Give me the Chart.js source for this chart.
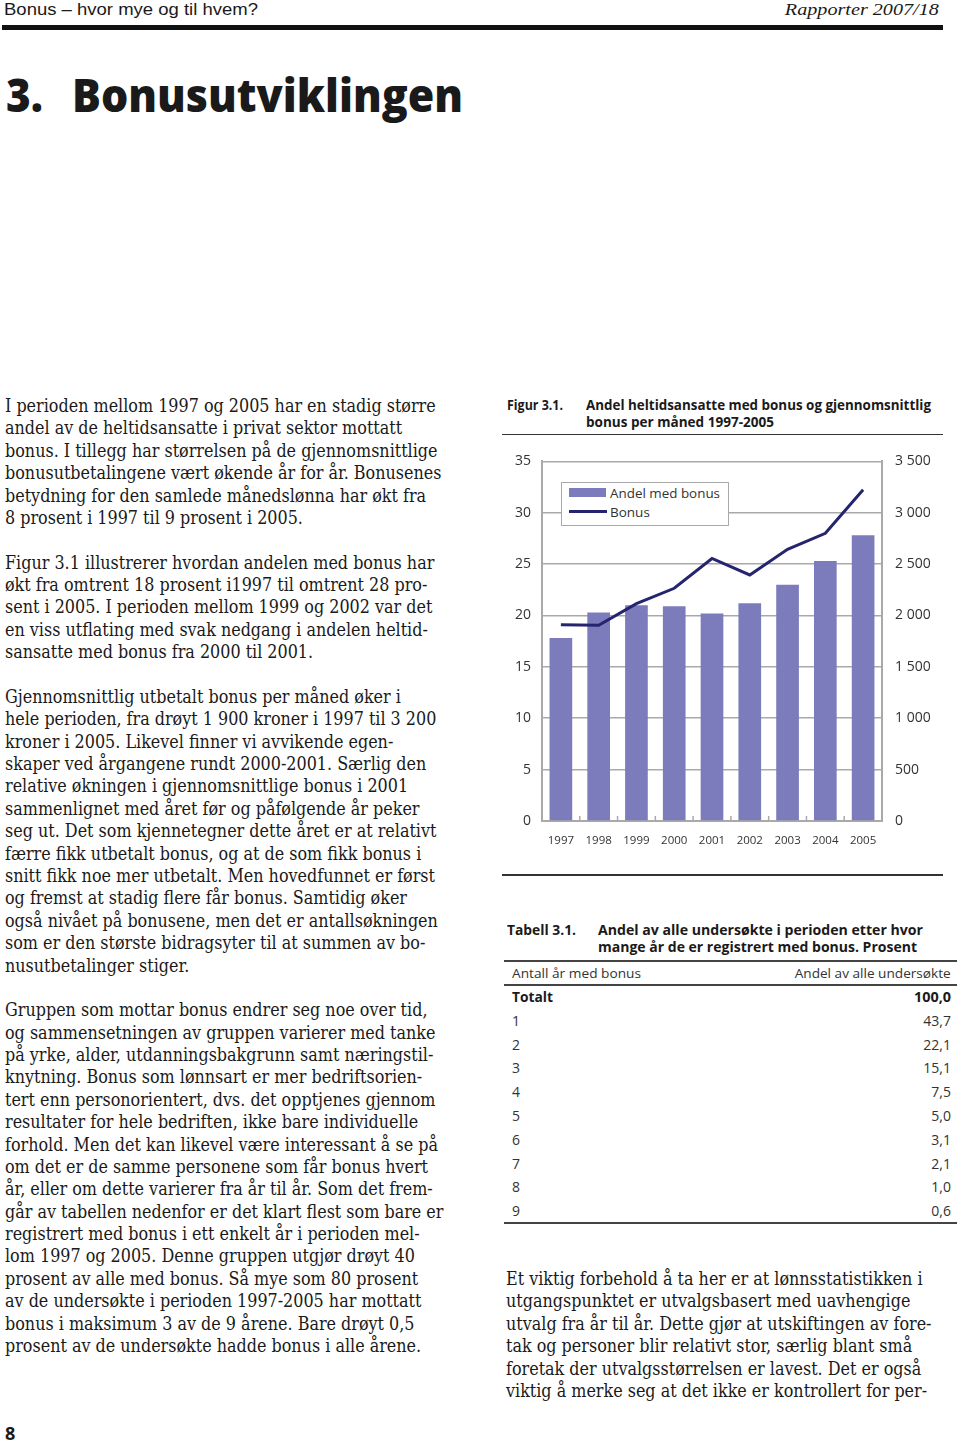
<!DOCTYPE html>
<html><head><meta charset="utf-8">
<script src="https://cdn.jsdelivr.net/npm/chart.js@4"></script>
<style>
html,body{margin:0;padding:0;background:#fff;}
body{width:960px;height:1444px;position:relative;overflow:hidden;color:#1a1a1a;}
.a{position:absolute;white-space:nowrap;}
.rule{position:absolute;background:#1e1e1e;}
#chartBox{position:absolute;left:500px;top:440px;width:460px;height:420px;}
.leg{position:absolute;z-index:5;}
</style></head><body>
<div id="chartBox"><canvas id="c" width="460" height="420"></canvas></div>
<script>
// ---------- data ----------
const years = ['1997','1998','1999','2000','2001','2002','2003','2004','2005'];
const andelMedBonus = [17.8, 20.3, 21.0, 20.9, 20.2, 21.2, 23.0, 25.3, 27.8];
const bonusKroner = [1910, 1905, 2115, 2265, 2555, 2395, 2645, 2800, 3225];
const leftAxisMax = 35, leftAxisStep = 5;
const rightAxisMax = 3500, rightAxisStep = 500;
const seriesLabels = ['Andel med bonus', 'Bonus'];

const tableYears = ['1','2','3','4','5','6','7','8','9'];
const tableShares = ['43,7','22,1','15,1','7,5','5,0','3,1','2,1','1,0','0,6'];
const tableTotal = '100,0';

// ---------- style ----------
const BAR = '#7c7cbc', LINE = '#25256f', GRID = '#a9a9a9', TICK = '#333333';
const SANS = '"Open Sans","Noto Sans",sans-serif';
const SERIF = '"DejaVu Serif Condensed","DejaVu Serif",serif';

const fits = [];
function txt(s, x, cy, o) {
  const d = document.createElement('div');
  d.className = 'a';
  d.textContent = s;
  const size = o.size, lh = o.lh || Math.round(size * 1.3);
  d.style.fontFamily = o.family || SANS;
  d.style.fontSize = size + 'px';
  d.style.fontWeight = o.weight || 400;
  d.style.fontStyle = o.style || 'normal';
  if (o.stretch) d.style.fontStretch = o.stretch;
  d.style.lineHeight = lh + 'px';
  d.style.top = (cy - lh / 2) + 'px';
  d.style.color = o.color || '#1a1a1a';
  if (o.right) { d.style.right = (960 - x) + 'px'; d.style.transformOrigin = '100% 50%'; }
  else { d.style.left = x + 'px'; d.style.transformOrigin = '0 50%'; }
  if (o.z) d.style.zIndex = o.z;
  document.body.appendChild(d);
  if (o.w) fits.push([d, o.w]);
  return d;
}
function rule(x, y, w, h, c) {
  const d = document.createElement('div');
  d.className = 'rule';
  d.style.left = x + 'px'; d.style.top = y + 'px';
  d.style.width = w + 'px'; d.style.height = h + 'px';
  if (c) d.style.background = c;
  document.body.appendChild(d);
}

// header
txt('Bonus – hvor mye og til hvem?', 4, 9.7, {size: 17, family: '"Liberation Sans",sans-serif', w: 254, lh: 18});
txt('Rapporter 2007/18', 939, 10, {size: 17, family: '"Liberation Serif",serif', style: 'italic', right: true, w: 154, lh: 18});
rule(2, 25, 941, 5, '#111');
// title
txt('3.', 6, 94, {size: 46, weight: 800, w: 37, lh: 60});
txt('Bonusutviklingen', 72, 94, {size: 46, weight: 800, w: 391, lh: 60});

// body text (left column)
const paras = [
 ["I perioden mellom 1997 og 2005 har en stadig større",
  "andel av de heltidsansatte i privat sektor mottatt",
  "bonus. I tillegg har størrelsen på de gjennomsnittlige",
  "bonusutbetalingene vært økende år for år. Bonusenes",
  "betydning for den samlede månedslønna har økt fra",
  "8 prosent i 1997 til 9 prosent i 2005."],
 ["Figur 3.1 illustrerer hvordan andelen med bonus har",
  "økt fra omtrent 18 prosent i1997 til omtrent 28 pro-",
  "sent i 2005. I perioden mellom 1999 og 2002 var det",
  "en viss utflating med svak nedgang i andelen heltid-",
  "sansatte med bonus fra 2000 til 2001."],
 ["Gjennomsnittlig utbetalt bonus per måned øker i",
  "hele perioden, fra drøyt 1 900 kroner i 1997 til 3 200",
  "kroner i 2005. Likevel finner vi avvikende egen-",
  "skaper ved årgangene rundt 2000-2001. Særlig den",
  "relative økningen i gjennomsnittlige bonus i 2001",
  "sammenlignet med året før og påfølgende år peker",
  "seg ut. Det som kjennetegner dette året er at relativt",
  "færre fikk utbetalt bonus, og at de som fikk bonus i",
  "snitt fikk noe mer utbetalt. Men hovedfunnet er først",
  "og fremst at stadig flere får bonus. Samtidig øker",
  "også nivået på bonusene, men det er antallsøkningen",
  "som er den største bidragsyter til at summen av bo-",
  "nusutbetalinger stiger."],
 ["Gruppen som mottar bonus endrer seg noe over tid,",
  "og sammensetningen av gruppen varierer med tanke",
  "på yrke, alder, utdanningsbakgrunn samt næringstil-",
  "knytning. Bonus som lønnsart er mer bedriftsorien-",
  "tert enn personorientert, dvs. det opptjenes gjennom",
  "resultater for hele bedriften, ikke bare individuelle",
  "forhold. Men det kan likevel være interessant å se på",
  "om det er de samme personene som får bonus hvert",
  "år, eller om dette varierer fra år til år. Som det frem-",
  "går av tabellen nedenfor er det klart flest som bare er",
  "registrert med bonus i ett enkelt år i perioden mel-",
  "lom 1997 og 2005. Denne gruppen utgjør drøyt 40",
  "prosent av alle med bonus. Så mye som 80 prosent",
  "av de undersøkte i perioden 1997-2005 har mottatt",
  "bonus i maksimum 3 av de 9 årene. Bare drøyt 0,5",
  "prosent av de undersøkte hadde bonus i alle årene."]
];
const rightPara = [
  "Et viktig forbehold å ta her er at lønnsstatistikken i",
  "utgangspunktet er utvalgsbasert med uavhengige",
  "utvalg fra år til år. Dette gjør at utskiftingen av fore-",
  "tak og personer blir relativt stor, særlig blant små",
  "foretak der utvalgsstørrelsen er lavest. Det er også",
  "viktig å merke seg at det ikke er kontrollert for per-"];

const bodyEls = [];
const LH = 22.38;
let row = 0;
paras.forEach(p => {
  p.forEach(l => { bodyEls.push(txt(l, 5, 406 + row * LH, {size: 17.4, family: SERIF, stretch: 'condensed', lh: 22})); row++; });
  row++;
});
rightPara.forEach((l, i) => bodyEls.push(txt(l, 506, 1279 + i * LH, {size: 17.4, family: SERIF, stretch: 'condensed', lh: 22})));

// figure caption
txt('Figur 3.1.', 507, 405, {size: 14, weight: 700, w: 56});
txt('Andel heltidsansatte med bonus og gjennomsnittlig', 586, 405, {size: 14, weight: 700, w: 345});
txt('bonus per måned 1997-2005', 586, 422, {size: 14, weight: 700, w: 188});
rule(502, 433.5, 441, 1.6, '#333');
rule(502, 874, 441, 1.6, '#333');

// legend (inside chart)
const lb = document.createElement('div');
lb.className = 'leg';
Object.assign(lb.style, {left: '561px', top: '482px', width: '168px', height: '44px', boxSizing: 'border-box', border: '1.5px solid ' + GRID, background: '#fff'});
document.body.appendChild(lb);
const sw1 = document.createElement('div'); sw1.className = 'leg';
Object.assign(sw1.style, {left: '569px', top: '488px', width: '37px', height: '9px', background: BAR});
document.body.appendChild(sw1);
const sw2 = document.createElement('div'); sw2.className = 'leg';
Object.assign(sw2.style, {left: '569px', top: '509.5px', width: '38px', height: '3px', background: LINE});
document.body.appendChild(sw2);
txt(seriesLabels[0], 610, 493, {size: 13.5, color: '#333', z: 6, w: 110});
txt(seriesLabels[1], 610, 512, {size: 13.5, color: '#333', z: 6});

// table
txt('Tabell 3.1.', 507, 930, {size: 14, weight: 700, w: 69});
txt('Andel av alle undersøkte i perioden etter hvor', 598, 930, {size: 14, weight: 700, w: 325});
txt('mange år de er registrert med bonus. Prosent', 598, 947, {size: 14, weight: 700, w: 319});
rule(504, 960, 453, 2, '#444');
txt('Antall år med bonus', 512, 973, {size: 13.5, color: '#333', w: 129});
txt('Andel av alle undersøkte', 951, 973, {size: 13.5, color: '#333', right: true, w: 156});
rule(504, 984, 453, 1.6, '#444');
const ROWH = 23.8;
txt('Totalt', 512, 997, {size: 14, weight: 700, w: 41});
txt(tableTotal, 951, 997, {size: 14, weight: 700, right: true, w: 37});
tableYears.forEach((y, i) => {
  txt(y, 512, 997 + (i + 1) * ROWH, {size: 14, color: '#333'});
  txt(tableShares[i], 951, 997 + (i + 1) * ROWH, {size: 14, color: '#333', right: true});
});
rule(504, 1221.5, 453, 2, '#444');

// page number
txt('8', 5, 1433, {size: 18, weight: 700});

function applyFits() {
  // scale body font so the first line matches the reference width
  const w0 = bodyEls[0].getBoundingClientRect().width;
  const f = 431 / w0;
  bodyEls.forEach(el => { el.style.fontSize = (17.4 * f) + 'px'; });
  fits.forEach(([d, w]) => {
    d.style.transform = 'none';
    const cw = d.getBoundingClientRect().width;
    d.style.transform = 'scaleX(' + (w / cw) + ')';
  });
}

// chart
const betweenTicks = {
  id: 'betweenTicks',
  beforeDatasetsDraw(chart) {
    const x = chart.scales.x, ctx = chart.ctx, b = chart.chartArea.bottom;
    ctx.save();
    ctx.strokeStyle = GRID; ctx.lineWidth = 1.5;
    for (let i = 0; i < x.ticks.length - 1; i++) {
      const px = (x.getPixelForTick(i) + x.getPixelForTick(i + 1)) / 2;
      ctx.beginPath(); ctx.moveTo(px, b); ctx.lineTo(px, b - 5); ctx.stroke();
    }
    ctx.restore();
  }
};
function fmtThousands(v) {
  return v >= 1000 ? Math.floor(v / 1000) + ' ' + String(v % 1000).padStart(3, '0') : String(v);
}
function makeChart() {
  new Chart(document.getElementById('c'), {
    data: {
      labels: years,
      datasets: [
        {type: 'line', label: seriesLabels[1], data: bonusKroner, yAxisID: 'y1', borderColor: LINE, borderWidth: 3,
         pointRadius: 0, tension: 0, order: 0},
        {type: 'bar', label: seriesLabels[0], data: andelMedBonus, yAxisID: 'y', backgroundColor: BAR,
         barPercentage: 0.9, categoryPercentage: 0.667, order: 1}
      ]
    },
    options: {
      responsive: false, animation: false, devicePixelRatio: 1,
      layout: {padding: {top: 17, left: 0, right: 0, bottom: 0}},
      plugins: {legend: {display: false}, tooltip: {enabled: false}},
      scales: {
        x: {
          grid: {display: true, drawOnChartArea: false, drawTicks: false, color: GRID},
          border: {color: GRID, width: 2},
          ticks: {color: TICK, font: {family: SANS, size: 11.5}, padding: 13, maxRotation: 0, autoSkip: false},
          afterFit(s) { s.height = 39; }
        },
        y: {
          position: 'left', min: 0, max: leftAxisMax,
          ticks: {stepSize: leftAxisStep, color: TICK, font: {family: SANS, size: 14}, padding: 11},
          grid: {color: GRID, lineWidth: 1.6, drawTicks: false},
          border: {color: GRID, width: 2},
          afterFit(s) { s.width = 42; }
        },
        y1: {
          position: 'right', min: 0, max: rightAxisMax,
          ticks: {stepSize: rightAxisStep, color: TICK, font: {family: SANS, size: 14}, padding: 13, callback: v => fmtThousands(v)},
          grid: {drawOnChartArea: false, drawTicks: false},
          border: {color: GRID, width: 2},
          afterFit(s) { s.width = 78; }
        }
      }
    },
    plugins: [betweenTicks]
  });
}
document.fonts.ready.then(() => { applyFits(); makeChart(); });
</script>
</body></html>
